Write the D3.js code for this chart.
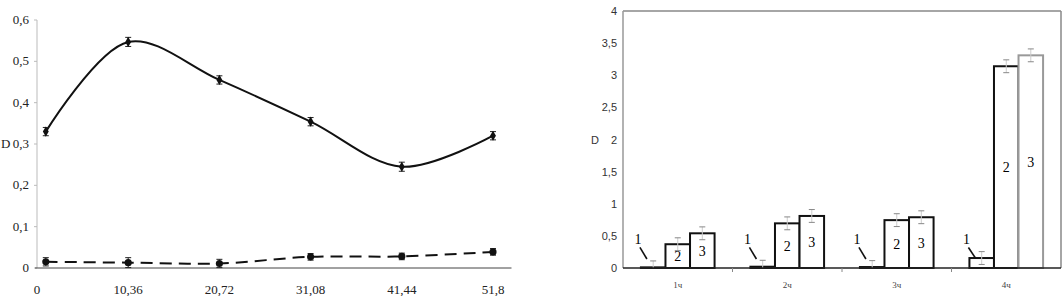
<!DOCTYPE html>
<html>
<head>
<meta charset="utf-8">
<script src="https://cdn.jsdelivr.net/npm/d3@7"></script>
<style>
  body { margin: 0; background: #fff; }
  svg { display: block; }
</style>
</head>
<body>
<div id="chart"></div>
<script>
// left chart data
var timeX = [1, 10.36, 20.72, 31.08, 41.44, 51.8]
var xTickLabels = ['0', '10,36', '20,72', '31,08', '41,44', '51,8']
var xTickValues = [0, 10.36, 20.72, 31.08, 41.44, 51.8]
var solidD = [0.33, 0.547, 0.455, 0.354, 0.245, 0.32]
var solidErr = [0.01, 0.011, 0.01, 0.01, 0.011, 0.01]
var dashedD = [0.015, 0.013, 0.011, 0.027, 0.028, 0.039]
var dashedErr = [0.01, 0.012, 0.01, 0.008, 0.008, 0.008]
var leftYTicks = [0, 0.1, 0.2, 0.3, 0.4, 0.5, 0.6]

// right chart data
var hours = ['1ч', '2ч', '3ч', '4ч']
var seriesNames = ['1', '2', '3']
var series1 = [0.01, 0.02, 0.015, 0.155]
var series2 = [0.37, 0.695, 0.745, 3.14]
var series3 = [0.54, 0.81, 0.79, 3.31]
var barErr = [0.1, 0.1, 0.1, 0.1]
var rightYTicks = [0, 0.5, 1, 1.5, 2, 2.5, 3, 3.5, 4]

var svg = d3.select('#chart')
  .append('svg')
  .attr('width', 1064)
  .attr('height', 296)

var fmt = function (v) { return String(v).replace('.', ',') }

// ---------- left chart ----------
var x = d3.scaleLinear().domain([0, 51.8]).range([37, 493])
var y = d3.scaleLinear().domain([0, 0.6]).range([268, 20])

var left = svg.append('g')

// y axis
left.append('line')
  .attr('x1', x(0)).attr('x2', x(0))
  .attr('y1', y(0)).attr('y2', y(0.6))
  .attr('stroke', '#bbb')
left.selectAll('.ytick')
  .data(leftYTicks)
  .enter()
  .append('line')
  .attr('x1', x(0) - 3).attr('x2', x(0))
  .attr('y1', function (d) { return y(d) })
  .attr('y2', function (d) { return y(d) })
  .attr('stroke', '#bbb')
left.selectAll('.ylab')
  .data(leftYTicks)
  .enter()
  .append('text')
  .attr('x', 29)
  .attr('y', function (d) { return y(d) + 4 })
  .attr('text-anchor', 'end')
  .style('font', '13px "Liberation Serif", serif')
  .attr('fill', '#222')
  .text(function (d) { return fmt(d) })
left.append('text')
  .attr('x', 1).attr('y', y(0.3) + 4)
  .style('font', '13px "Liberation Serif", serif')
  .attr('fill', '#222')
  .text('D')

// x axis
left.append('line')
  .attr('x1', x(0) - 2).attr('x2', x(53.9))
  .attr('y1', y(0)).attr('y2', y(0))
  .attr('stroke', '#444')
left.selectAll('.xlab')
  .data(xTickValues)
  .enter()
  .append('text')
  .attr('x', function (d) { return x(d) })
  .attr('y', 294)
  .attr('text-anchor', 'middle')
  .style('font', '13px "Liberation Serif", serif')
  .attr('fill', '#222')
  .text(function (d, i) { return xTickLabels[i] })

var smooth = d3.line()
  .x(function (d, i) { return x(timeX[i]) })
  .y(function (d) { return y(d) })
  .curve(d3.curveCatmullRom.alpha(0.5))

left.append('path')
  .datum(solidD)
  .attr('d', smooth)
  .attr('fill', 'none')
  .attr('stroke', '#111')
  .attr('stroke-width', 2)

left.append('path')
  .datum(dashedD)
  .attr('d', smooth)
  .attr('fill', 'none')
  .attr('stroke', '#111')
  .attr('stroke-width', 2)
  .attr('stroke-dasharray', '12,7')

function errorBars (g, vals, errs, sy, xf, color, cap) {
  var eb = g.selectAll(null).data(vals).enter().append('g')
  eb.append('line')
    .attr('x1', function (d, i) { return xf(i) })
    .attr('x2', function (d, i) { return xf(i) })
    .attr('y1', function (d, i) { return sy(d - errs[i]) })
    .attr('y2', function (d, i) { return sy(d + errs[i]) })
    .attr('stroke', color)
  eb.append('line')
    .attr('x1', function (d, i) { return xf(i) - cap })
    .attr('x2', function (d, i) { return xf(i) + cap })
    .attr('y1', function (d, i) { return sy(d + errs[i]) })
    .attr('y2', function (d, i) { return sy(d + errs[i]) })
    .attr('stroke', color)
  eb.append('line')
    .attr('x1', function (d, i) { return xf(i) - cap })
    .attr('x2', function (d, i) { return xf(i) + cap })
    .attr('y1', function (d, i) { return sy(d - errs[i]) })
    .attr('y2', function (d, i) { return sy(d - errs[i]) })
    .attr('stroke', color)
}

var px = function (i) { return x(timeX[i]) }
errorBars(left, solidD, solidErr, y, px, '#222', 3)
errorBars(left, dashedD, dashedErr, y, px, '#222', 3)

left.selectAll('.diam')
  .data(solidD)
  .enter()
  .append('path')
  .attr('d', d3.symbol().type(d3.symbolDiamond).size(30))
  .attr('transform', function (d, i) { return 'translate(' + px(i) + ',' + y(d) + ')' })
  .attr('fill', '#111')

left.selectAll('.sq')
  .data(dashedD)
  .enter()
  .append('path')
  .attr('d', d3.symbol().type(d3.symbolCircle).size(40))
  .attr('transform', function (d, i) { return 'translate(' + px(i) + ',' + y(d) + ')' })
  .attr('fill', '#111')

// ---------- right chart ----------
var xb = d3.scaleBand().domain(hours).range([623, 1061])
var xs = d3.scaleBand().domain(seriesNames).range([0, xb.bandwidth()]).paddingOuter(0.73)
var yb = d3.scaleLinear().domain([0, 4]).range([268, 11])

var right = svg.append('g')

// frame
right.append('line')
  .attr('x1', xb.range()[0]).attr('x2', xb.range()[1])
  .attr('y1', yb(4)).attr('y2', yb(4))
  .attr('stroke', '#888').attr('stroke-width', 1.5)
right.append('line')
  .attr('x1', xb.range()[1]).attr('x2', xb.range()[1])
  .attr('y1', yb(4)).attr('y2', yb(0))
  .attr('stroke', '#888').attr('stroke-width', 1.5)
right.append('line')
  .attr('x1', xb.range()[0]).attr('x2', xb.range()[0])
  .attr('y1', yb(4)).attr('y2', yb(0))
  .attr('stroke', '#999').attr('stroke-width', 1.5)

right.selectAll('.rylab')
  .data(rightYTicks)
  .enter()
  .append('text')
  .attr('x', 617)
  .attr('y', function (d) { return yb(d) + 4 })
  .attr('text-anchor', 'end')
  .style('font', '11px "Liberation Sans", Arial, sans-serif')
  .attr('fill', '#333')
  .text(function (d) { return fmt(d) })
right.append('text')
  .attr('x', 591).attr('y', yb(2) + 4)
  .style('font', '11px "Liberation Sans", Arial, sans-serif')
  .attr('fill', '#333')
  .text('D')

right.selectAll('.hlab')
  .data(hours)
  .enter()
  .append('text')
  .attr('x', function (d) { return xb(d) + xb.bandwidth() / 2 })
  .attr('y', 288)
  .attr('text-anchor', 'middle')
  .style('font', '9px "Liberation Serif", serif')
  .attr('fill', '#444')
  .text(function (d) { return d })

var allSeries = [series1, series2, series3]
var groups = right.selectAll('.grp')
  .data(hours)
  .enter()
  .append('g')
  .attr('transform', function (d) { return 'translate(' + xb(d) + ',0)' })

groups.each(function (h, gi) {
  var g = d3.select(this)
  seriesNames.forEach(function (s, si) {
    var v = allSeries[si][gi]
    var bx = xs(s)
    var gray = (gi === 3 && si === 2)
    g.append('rect')
      .attr('x', bx)
      .attr('y', yb(v))
      .attr('width', xs.bandwidth())
      .attr('height', yb(0) - yb(v))
      .attr('fill', '#fff')
      .attr('stroke', gray ? '#999' : '#111')
      .attr('stroke-width', 2)
    var cx = bx + xs.bandwidth() / 2
    var e = barErr[gi]
    g.append('line')
      .attr('x1', cx).attr('x2', cx)
      .attr('y1', yb(Math.max(0, v - e))).attr('y2', yb(v + e))
      .attr('stroke', '#ccc')
    g.append('line')
      .attr('x1', cx - 3).attr('x2', cx + 3)
      .attr('y1', yb(v + e)).attr('y2', yb(v + e))
      .attr('stroke', '#888')
    if (v - e > 0) {
      g.append('line')
        .attr('x1', cx - 3).attr('x2', cx + 3)
        .attr('y1', yb(v - e)).attr('y2', yb(v - e))
        .attr('stroke', '#888')
    }
    if (si === 0) {
      g.append('text')
        .attr('x', bx - 3)
        .attr('y', yb(0.38))
        .attr('text-anchor', 'middle')
        .style('font', '14px "Liberation Serif", serif')
        .attr('fill', '#000')
        .text(s)
      g.append('line')
        .attr('x1', bx - 1).attr('y1', yb(0.32))
        .attr('x2', bx + 6).attr('y2', Math.min(yb(0.14), yb(v)))
        .attr('stroke', '#111').attr('stroke-width', 1.6)
    } else {
      g.append('text')
        .attr('x', cx)
        .attr('y', (yb(v) + yb(0)) / 2 + 5)
        .attr('text-anchor', 'middle')
        .style('font', '14px "Liberation Serif", serif')
        .attr('fill', '#000')
        .text(s)
    }
  })
})

// x axis and small boundary ticks
right.append('line')
  .attr('x1', xb.range()[0]).attr('x2', xb.range()[1])
  .attr('y1', yb(0)).attr('y2', yb(0))
  .attr('stroke', '#222').attr('stroke-width', 1.5)
right.selectAll('.btick')
  .data(hours.slice(1))
  .enter()
  .append('line')
  .attr('x1', function (d) { return xb(d) })
  .attr('x2', function (d) { return xb(d) })
  .attr('y1', yb(0)).attr('y2', yb(0) + 4)
  .attr('stroke', '#888')
</script>
</body>
</html>
